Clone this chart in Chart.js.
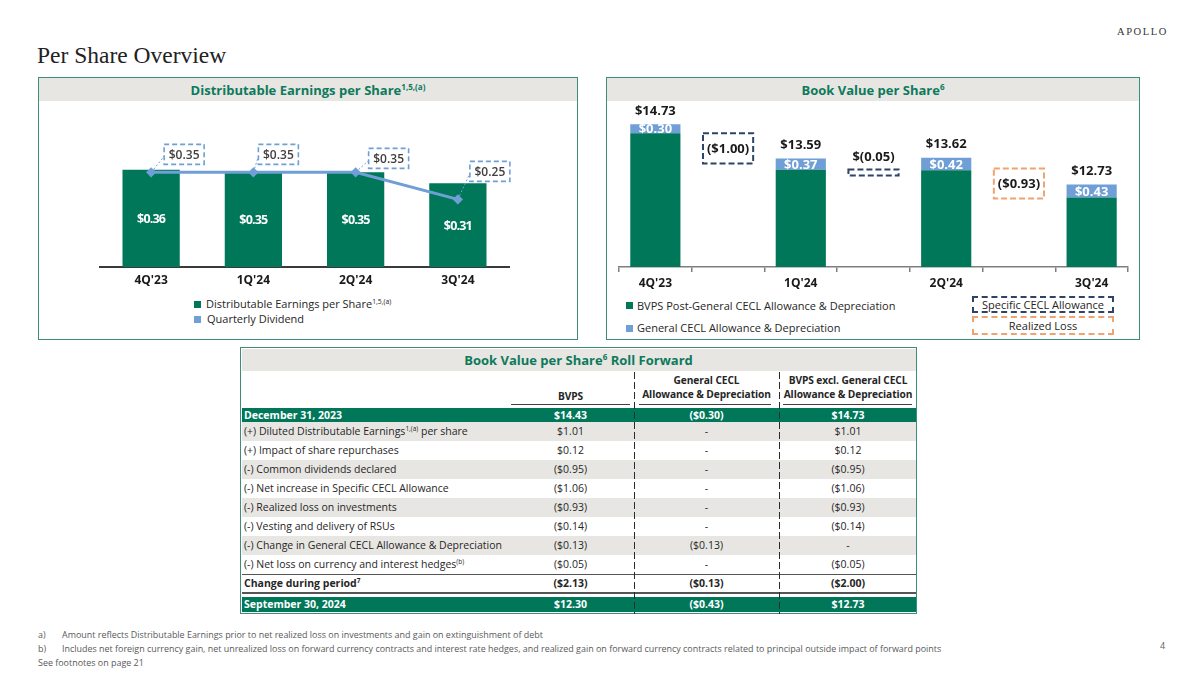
<!DOCTYPE html>
<html>
<head>
<meta charset="utf-8">
<script src="https://cdn.jsdelivr.net/npm/chart.js@4.4.1/dist/chart.umd.min.js"></script>
<style>
  body { margin: 0; width: 1200px; height: 675px; position: relative; overflow: hidden; background: #fff; font-family: "Open Sans", sans-serif; color: #262626; }
  .abs { position: absolute; white-space: nowrap; }
  .panel { position: absolute; top: 77px; height: 263px; border: 1.5px solid #3b8f76; box-sizing: border-box; }
  .head { position: absolute; left: 0; right: 0; top: 0; height: 23px; background: #e8e6e3; color: #0c7a5b; font-weight: 700; font-size: 13px; text-align: center; line-height: 24px; }
  sup { font-size: 0.62em; line-height: 0; vertical-align: 0.62em; }
  .sq { position: absolute; width: 7px; height: 7px; }
  .leg { position: absolute; font-size: 11px; line-height: 14px; white-space: nowrap; color: #262626; }
  .dbox { position: absolute; box-sizing: border-box; font-size: 11px; text-align: center; color: #262626; }
  .cell { position: absolute; font-size: 10.5px; line-height: 19px; height: 19px; white-space: nowrap; }
  .num { text-align: center; }
  .th { position: absolute; font-size: 10.2px; font-weight: 700; text-align: center; line-height: 14px; white-space: nowrap; letter-spacing: -0.1px; }
  .uline { position: absolute; top: 404px; height: 1px; background: #404040; }
  .vsep { position: absolute; width: 1.6px; top: 372px; height: 242px; background: repeating-linear-gradient(to bottom, #2b2b2b 0 7px, transparent 7px 10px); }
  .foot { position: absolute; font-size: 9.5px; color: #595959; white-space: nowrap; transform-origin: left top; transform: scaleX(0.94); }
</style>
</head>
<body>

<div class="abs" style="left:1117px; top:26px; font-family:'Liberation Serif',serif; font-size:10.5px; letter-spacing:1.6px; color:#333;">APOLLO</div>
<div class="abs" style="left:37px; top:42px; font-family:'Liberation Serif',serif; font-size:23.5px; color:#222;">Per Share Overview</div>

<div class="panel" style="left:38px; width:540px;">
  <div class="head">Distributable Earnings per Share<sup>1,5,(a)</sup></div>
</div>
<div class="panel" style="left:606px; width:534px;">
  <div class="head">Book Value per Share<sup>6</sup></div>
</div>

<div class="abs" style="left:38px; top:101px;"><canvas id="deChart" width="539" height="190"></canvas></div>
<div class="abs" style="left:606px; top:101px;"><canvas id="bvChart" width="532" height="190"></canvas></div>

<div class="sq" style="left:194px; top:301px; background:#007759;"></div>
<div class="leg" style="left:206px; top:297px;">Distributable Earnings per Share<sup>1,5,(a)</sup></div>
<div class="sq" style="left:194px; top:316px; background:#6f9fd6;"></div>
<div class="leg" style="left:207px; top:312px;">Quarterly Dividend</div>

<div class="sq" style="left:626px; top:302px; background:#007759;"></div>
<div class="leg" style="left:637px; top:299px;">BVPS Post-General CECL Allowance &amp; Depreciation</div>
<div class="sq" style="left:626px; top:325px; background:#6f9fd6;"></div>
<div class="leg" style="left:637px; top:321px;">General CECL Allowance &amp; Depreciation</div>
<div class="dbox" style="left:972px; top:296px; width:142px; height:17px; line-height:13px; border:2px dashed #2d4466;">Specific CECL Allowance</div>
<div class="dbox" style="left:972px; top:316px; width:142px; height:19px; line-height:15px; border:2px dashed #f0a36e;">Realized Loss</div>

<div id="roll"></div>

<div class="foot" style="left:38px; top:628px;">a)</div>
<div class="foot" style="left:62px; top:628px;">Amount reflects Distributable Earnings prior to net realized loss on investments and gain on extinguishment of debt</div>
<div class="foot" style="left:38px; top:642px;">b)</div>
<div class="foot" style="left:62px; top:642px;">Includes net foreign currency gain, net unrealized loss on forward currency contracts and interest rate hedges, and realized gain on forward currency contracts related to principal outside impact of forward points</div>
<div class="foot" style="left:38px; top:656px;">See footnotes on page 21</div>
<div class="foot" style="left:1160px; top:639px;">4</div>

<script>
// Distributable earnings chart
const deQuarters = ["4Q'23", "1Q'24", "2Q'24", "3Q'24"];
const deValues = [0.36, 0.35, 0.35, 0.31];
const dividends = [0.35, 0.35, 0.35, 0.25];

// Book value chart
const bvQuarters = ["4Q'23", "1Q'24", "2Q'24", "3Q'24"];
const bvpsPost = [14.43, 13.22, 13.20, 12.30];
const generalCecl = [0.30, 0.37, 0.42, 0.43];
const bridgeLabels = ["($1.00)", "$(0.05)", "($0.93)"];
const bridgeLow = [13.43, 13.03, 12.27];
const bridgeHigh = [14.43, 13.23, 13.26];
const bridgeKind = ["specific", "specific", "realized"];

// Roll forward table
const rollStart = ["December 31, 2023", "$14.43", "($0.30)", "$14.73"];
const rollItems = [
  "(+) Diluted Distributable Earnings<sup>1,(a)</sup> per share",
  "(+) Impact of share repurchases",
  "(-) Common dividends declared",
  "(-) Net increase in Specific CECL Allowance",
  "(-) Realized loss on investments",
  "(-) Vesting and delivery of RSUs",
  "(-) Change in General CECL Allowance &amp; Depreciation",
  "(-) Net loss on currency and interest hedges<sup>(b)</sup>",
];
const rollBvps = ["$1.01", "$0.12", "($0.95)", "($1.06)", "($0.93)", "($0.14)", "($0.13)", "($0.05)"];
const rollCecl = ["-", "-", "-", "-", "-", "-", "($0.13)", "-"];
const rollExcl = ["$1.01", "$0.12", "($0.95)", "($1.06)", "($0.93)", "($0.14)", "-", "($0.05)"];
const rollChange = ["Change during period<sup>7</sup>", "($2.13)", "($0.13)", "($2.00)"];
const rollEnd = ["September 30, 2024", "$12.30", "($0.43)", "$12.73"];

const GREEN = "#007759";
const BLUE = "#6f9fd6";
const NAVY = "#2d4466";
const ORANGE = "#f0a36e";
const usd = (v) => "$" + v.toFixed(2);

Chart.defaults.font.family = "'Open Sans', sans-serif";

// callout offsets for the dividend boxes
const calloutDx = [13, 5, 13, 12];
const calloutLift = [28, 28, 24, 38];

const deLabels = {
  id: "deLabels",
  afterDatasetsDraw(chart) {
    const { ctx } = chart;
    const bars = chart.getDatasetMeta(0).data;
    const pts = chart.getDatasetMeta(1).data;
    ctx.save();
    ctx.textAlign = "center";
    ctx.textBaseline = "middle";
    bars.forEach((bar, i) => {
      ctx.font = "bold 12.5px 'Open Sans'";
      ctx.letterSpacing = "-0.8px";
      ctx.fillStyle = "#fff";
      ctx.fillText(usd(deValues[i]), bar.x, (bar.y + bar.base) / 2 + 1);
    });
    ctx.letterSpacing = "0px";
    pts.forEach((p, i) => {
      const bw = 40, bh = 20;
      const bx = p.x + calloutDx[i];
      const by = p.y - calloutLift[i];
      ctx.strokeStyle = BLUE;
      ctx.lineWidth = 1;
      ctx.setLineDash([2, 2]);
      ctx.beginPath();
      ctx.moveTo(p.x, p.y);
      ctx.lineTo(bx, by + bh * 0.6);
      ctx.stroke();
      ctx.lineWidth = 1.6;
      ctx.setLineDash([5, 3]);
      ctx.strokeRect(bx, by, bw, bh);
      ctx.fillStyle = "#404040";
      ctx.font = "600 12px 'Open Sans'";
      ctx.fillText(usd(dividends[i]), bx + bw / 2, by + bh / 2 + 1);
    });
    ctx.restore();
  },
};

new Chart(document.getElementById("deChart"), {
  type: "bar",
  data: {
    labels: deQuarters,
    datasets: [
      {
        label: "Distributable Earnings per Share",
        data: deValues,
        backgroundColor: GREEN,
        barPercentage: 0.56,
        categoryPercentage: 1,
        order: 1,
      },
      {
        type: "line",
        label: "Quarterly Dividend",
        data: dividends,
        borderColor: BLUE,
        backgroundColor: BLUE,
        borderWidth: 3,
        pointStyle: "rectRot",
        pointRadius: 3,
        order: 0,
      },
    ],
  },
  options: {
    responsive: false,
    animation: false,
    layout: { padding: { left: 62, right: 68, top: 20, bottom: 0 } },
    plugins: { legend: { display: false }, tooltip: { enabled: false } },
    scales: {
      y: { display: false, min: 0, max: 0.54 },
      x: {
        grid: { display: false, drawTicks: false },
        border: { display: true, color: "#3a3a3a", width: 2 },
        ticks: { color: "#1a1a1a", font: { weight: "bold", size: 12 }, padding: 6 },
        afterFit(scale) { scale.height = 24; },
      },
    },
  },
  plugins: [deLabels],
});

// build the waterfall categories: quarters with bridge steps between them
const bvCats = [];
const greenData = [];
const blueData = [];
const specData = [];
const realData = [];
const bridgeIdx = [];
bvQuarters.forEach((q, i) => {
  bvCats.push(q);
  greenData.push(bvpsPost[i]);
  blueData.push([bvpsPost[i], bvpsPost[i] + generalCecl[i]]);
  specData.push(null);
  realData.push(null);
  if (i < bridgeLabels.length) {
    bvCats.push("");
    greenData.push(null);
    blueData.push(null);
    const r = [bridgeLow[i], bridgeHigh[i]];
    specData.push(bridgeKind[i] === "specific" ? r : null);
    realData.push(bridgeKind[i] === "realized" ? r : null);
    bridgeIdx.push(bvCats.length - 1);
  }
});

const bvLabels = {
  id: "bvLabels",
  afterDatasetsDraw(chart) {
    const { ctx } = chart;
    const green = chart.getDatasetMeta(0).data;
    const blue = chart.getDatasetMeta(1).data;
    const spec = chart.getDatasetMeta(2).data;
    const real = chart.getDatasetMeta(3).data;
    ctx.save();
    ctx.textAlign = "center";
    ctx.textBaseline = "middle";
    ctx.font = "bold 13px 'Open Sans'";
    bvQuarters.forEach((q, i) => {
      const k = i * 2;
      const g = green[k];
      const b = blue[k];
      ctx.fillStyle = "#fff";
      ctx.fillText(usd(bvpsPost[i]), g.x, (g.y + g.base) / 2);
      ctx.fillText(usd(generalCecl[i]), b.x, (b.y + b.base) / 2 + 1);
      ctx.fillStyle = "#1a1a1a";
      ctx.fillText(usd(bvpsPost[i] + generalCecl[i]), b.x, b.y - 13);
    });
    bridgeIdx.forEach((k, i) => {
      const el = bridgeKind[i] === "specific" ? spec[k] : real[k];
      const h = el.base - el.y;
      ctx.strokeStyle = bridgeKind[i] === "specific" ? NAVY : ORANGE;
      ctx.lineWidth = 2;
      ctx.setLineDash([6, 3]);
      ctx.strokeRect(el.x - el.width / 2, el.y, el.width, h);
      ctx.fillStyle = "#1a1a1a";
      const ty = h > 20 ? el.y + h / 2 + 1 : el.y - 12;
      ctx.fillText(bridgeLabels[i], el.x, ty);
    });
    ctx.restore();
  },
};

new Chart(document.getElementById("bvChart"), {
  type: "bar",
  data: {
    labels: bvCats,
    datasets: [
      { label: "BVPS Post-General CECL Allowance & Depreciation", data: greenData, backgroundColor: GREEN },
      { label: "General CECL Allowance & Depreciation", data: blueData, backgroundColor: BLUE },
      { label: "Specific CECL Allowance", data: specData, backgroundColor: "rgba(0,0,0,0)" },
      { label: "Realized Loss", data: realData, backgroundColor: "rgba(0,0,0,0)" },
    ],
  },
  options: {
    responsive: false,
    animation: false,
    datasets: { bar: { grouped: false, barPercentage: 0.69, categoryPercentage: 1 } },
    layout: { padding: { left: 13, right: 10, top: 15, bottom: 0 } },
    plugins: { legend: { display: false }, tooltip: { enabled: false } },
    scales: {
      y: { display: false, min: 10, max: 15 },
      x: {
        grid: { display: true, drawOnChartArea: false, drawTicks: true, tickLength: 5, color: "#7f7f7f", lineWidth: 1.5, offset: true },
        border: { display: true, color: "#7f7f7f", width: 1.5 },
        ticks: { color: "#1a1a1a", font: { weight: "bold", size: 12 }, padding: 4, autoSkip: false, maxRotation: 0 },
        afterFit(scale) { scale.height = 24; },
      },
    },
  },
  plugins: [bvLabels],
});

// roll forward table
const cols = [
  { left: 508, width: 125 },
  { left: 636, width: 141 },
  { left: 781, width: 134 },
];
let html = "";
html += '<div class="abs" style="left:240px; top:347px; width:677px; height:267px; box-sizing:border-box; border:1.5px solid #3b8f76;"></div>';
html += '<div class="abs" style="left:241.5px; top:348.5px; width:674px; height:22px; background:#e8e6e3; color:#0c7a5b; font-weight:700; font-size:13px; text-align:center; line-height:22px;">Book Value per Share<sup>6</sup> Roll Forward</div>';
html += '<div class="th" style="left:508px; width:125px; top:389px;">BVPS</div>';
html += '<div class="th" style="left:636px; width:141px; top:373px;">General CECL<br>Allowance &amp; Depreciation</div>';
html += '<div class="th" style="left:781px; width:134px; top:373px;">BVPS excl. General CECL<br>Allowance &amp; Depreciation</div>';
html += '<div class="uline" style="left:511px; width:119px;"></div>';
html += '<div class="uline" style="left:639px; width:132px;"></div>';
html += '<div class="uline" style="left:783px; width:129px;"></div>';

function row(top, h, bg, cells, style) {
  let s = `<div class="abs" style="left:241.5px; top:${top}px; width:674px; height:${h}px; background:${bg};"></div>`;
  s += `<div class="cell" style="left:244px; top:${top}px; line-height:${h}px; height:${h}px; ${style}">${cells[0]}</div>`;
  cols.forEach((c, j) => {
    s += `<div class="cell num" style="left:${c.left}px; width:${c.width}px; top:${top}px; line-height:${h}px; height:${h}px; ${style}">${cells[j + 1]}</div>`;
  });
  return s;
}

html += row(408, 14, GREEN, rollStart, "color:#fff; font-weight:700;");
rollItems.forEach((item, i) => {
  html += row(422 + i * 19, 19, i % 2 === 0 ? "#e8e6e3" : "#fff", [item, rollBvps[i], rollCecl[i], rollExcl[i]], "");
});
html += row(574, 19, "#fff", rollChange, "font-weight:700;");
html += '<div class="abs" style="left:241.5px; top:574px; width:674px; height:1px; background:#555;"></div>';
html += '<div class="abs" style="left:241.5px; top:592px; width:674px; height:1.5px; background:#555;"></div>';
html += row(597, 15, GREEN, rollEnd, "color:#fff; font-weight:700;");
html += '<div class="vsep" style="left:633.5px;"></div>';
html += '<div class="vsep" style="left:778.5px;"></div>';
document.getElementById("roll").innerHTML = html;
</script>
</body>
</html>
